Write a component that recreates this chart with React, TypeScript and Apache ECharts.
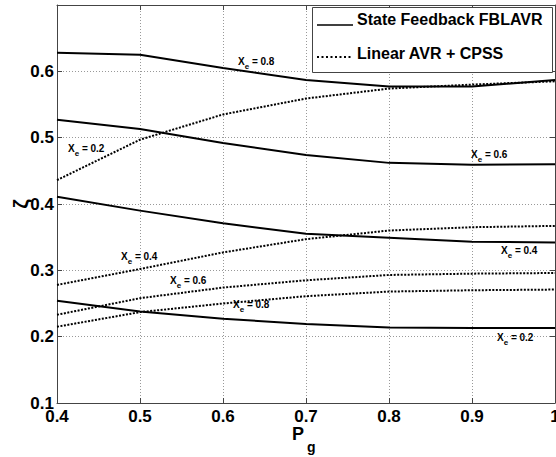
import React, { useEffect, useRef } from "react";
import * as echarts from "echarts";

const xVals = [0.4, 0.5, 0.6, 0.7, 0.8, 0.9, 1.0];

// State Feedback FBLAVR (solid)
const fb02 = [0.254, 0.238, 0.227, 0.219, 0.214, 0.213, 0.213];
const fb04 = [0.411, 0.39, 0.371, 0.355, 0.349, 0.343, 0.342];
const fb06 = [0.527, 0.513, 0.492, 0.474, 0.462, 0.459, 0.46];
const fb08 = [0.628, 0.625, 0.605, 0.587, 0.577, 0.577, 0.587];

// Linear AVR + CPSS (dotted)
const cp02 = [0.436, 0.497, 0.535, 0.559, 0.574, 0.58, 0.585];
const cp04 = [0.278, 0.302, 0.327, 0.347, 0.36, 0.365, 0.367];
const cp06 = [0.233, 0.258, 0.274, 0.285, 0.293, 0.295, 0.296];
const cp08 = [0.215, 0.237, 0.25, 0.261, 0.268, 0.27, 0.271];

const yTicks = [0.1, 0.2, 0.3, 0.4, 0.5, 0.6];

const FB_NAME = "State Feedback FBLAVR";
const CP_NAME = "Linear AVR + CPSS";

// annotation labels: [left x, center y, Xe value text]
const annotations: [number, number, string][] = [
  [238, 61, "0.8"],
  [68, 148, "0.2"],
  [471, 154, "0.6"],
  [121, 256, "0.4"],
  [170, 280, "0.6"],
  [233, 304, "0.8"],
  [501, 250, "0.4"],
  [497, 337, "0.2"],
];

const FONT = "'Liberation Sans', Arial, Helvetica, sans-serif";
const DOT: number[] = [2, 1.5];

export default function App() {
  const ref = useRef<HTMLDivElement>(null);
  useEffect(() => {
    if (!ref.current) return;
    const chart = echarts.init(ref.current, null, { renderer: "svg" });
    const pair = (ys: number[]) => xVals.map((x, i) => [x, ys[i]]);
    const solid = (ys: number[]) => ({
      type: "line",
      name: FB_NAME,
      data: pair(ys),
      showSymbol: false,
      symbol: "none",
      lineStyle: { color: "#000", width: 2, type: "solid" },
      itemStyle: { color: "#000" },
      xAxisIndex: 0,
      yAxisIndex: 0,
    });
    const dotted = (ys: number[]) => ({
      type: "line",
      name: CP_NAME,
      data: pair(ys),
      showSymbol: false,
      symbol: "none",
      lineStyle: { color: "#000", width: 2, type: DOT },
      itemStyle: { color: "#000" },
      xAxisIndex: 0,
      yAxisIndex: 0,
    });
    const axisCommon = {
      type: "value",
      axisLine: { show: true, lineStyle: { color: "#444", width: 1 } },
      axisTick: { show: true, inside: true, length: 5, lineStyle: { color: "#444" } },
    };
    const legendText = (text: string, y: number) => ({
      type: "text",
      x: 357,
      y,
      silent: true,
      z: 101,
      style: {
        text,
        fontFamily: FONT,
        fontWeight: "bold",
        fontSize: 16,
        fill: "#000",
        align: "left",
        verticalAlign: "middle",
      },
    });
    chart.setOption({
      animation: false,
      backgroundColor: "#fff",
      textStyle: { fontFamily: FONT },
      grid: { left: 57, right: 1, top: 5, bottom: 54, containLabel: false, outerBoundsMode: "none" },
      xAxis: [
        {
          ...axisCommon,
          position: "bottom",
          min: 0.4,
          max: 1,
          interval: 0.1,
          axisLabel: {
            color: "#000",
            fontFamily: FONT,
            fontWeight: "bold",
            fontSize: 17,
            lineHeight: 15,
            margin: 6,
            formatter: (v: number) => (Math.abs(v - 1) < 1e-9 ? "1" : v.toFixed(1)),
          },
          splitLine: { show: true, lineStyle: { color: "#999", type: [1, 2], width: 1 } },
        },
        {
          ...axisCommon,
          position: "top",
          min: 0.4,
          max: 1,
          interval: 0.1,
          axisLabel: { show: false },
          splitLine: { show: false },
        },
      ],
      yAxis: [
        {
          ...axisCommon,
          position: "left",
          min: 0.1,
          max: 0.7,
          interval: 0.1,
          axisLabel: {
            color: "#000",
            fontFamily: FONT,
            fontWeight: "bold",
            fontSize: 17,
            lineHeight: 12,
            margin: 3,
            formatter: (v: number) => {
              const t = yTicks.find((y) => Math.abs(y - v) < 1e-9);
              return t === undefined ? "" : t.toFixed(1);
            },
          },
          splitLine: { show: true, lineStyle: { color: "#999", type: [1, 2], width: 1 } },
        },
        {
          ...axisCommon,
          position: "right",
          min: 0.1,
          max: 0.7,
          interval: 0.1,
          axisLabel: { show: false },
          splitLine: { show: false },
        },
      ],
      series: [
        solid(fb02),
        solid(fb04),
        solid(fb06),
        solid(fb08),
        dotted(cp02),
        dotted(cp04),
        dotted(cp06),
        dotted(cp08),
      ],
      graphic: [
        ...annotations.map(([x, y, v]) => ({
          type: "text",
          x,
          y,
          silent: true,
          z: 100,
          style: {
            text: `{x|X}{e|e}{r| = ${v}}`,
            verticalAlign: "middle",
            align: "left",
            rich: {
              x: { fontFamily: FONT, fontWeight: "bold", fontSize: 10, lineHeight: 18, fill: "#000" },
              e: {
                fontFamily: FONT,
                fontWeight: "bold",
                fontSize: 8,
                lineHeight: 18,
                height: 8,
                verticalAlign: "bottom",
                fill: "#000",
              },
              r: { fontFamily: FONT, fontWeight: "bold", fontSize: 10, lineHeight: 18, fill: "#000" },
            },
          },
        })),
        // legend box
        {
          type: "rect",
          silent: true,
          z: 99,
          shape: { x: 312.5, y: 7.5, width: 240, height: 65 },
          style: { fill: "#fff", stroke: "#444", lineWidth: 1 },
        },
        {
          type: "line",
          silent: true,
          z: 101,
          shape: { x1: 317, y1: 25, x2: 353, y2: 25 },
          style: { stroke: "#000", lineWidth: 1.5 },
        },
        {
          type: "line",
          silent: true,
          z: 101,
          shape: { x1: 317, y1: 57, x2: 353, y2: 57 },
          style: { stroke: "#000", lineWidth: 2, lineDash: [2, 2.5] },
        },
        legendText(FB_NAME, 19),
        legendText(CP_NAME, 53),
        {
          type: "text",
          x: 20,
          y: 204,
          rotation: Math.PI / 2,
          silent: true,
          style: {
            text: "ζ",
            fontFamily: FONT,
            fontWeight: "bold",
            fontSize: 21,
            fill: "#000",
            align: "center",
            verticalAlign: "middle",
          },
        },
        {
          type: "text",
          x: 292,
          y: 434,
          silent: true,
          style: {
            text: "P",
            fontFamily: FONT,
            fontWeight: "bold",
            fontSize: 18,
            lineHeight: 10,
            fill: "#000",
            align: "left",
            verticalAlign: "middle",
          },
        },
        {
          type: "text",
          x: 307,
          y: 447,
          silent: true,
          style: {
            text: "g",
            fontFamily: FONT,
            fontWeight: "bold",
            fontSize: 14,
            lineHeight: 10,
            fill: "#000",
            align: "left",
            verticalAlign: "middle",
          },
        },
      ],
    });
    return () => chart.dispose();
  }, []);
  return (
    <div
      ref={ref}
      style={{ position: "fixed", left: 0, top: 0, width: 556, height: 457, background: "#fff" }}
    />
  );
}
